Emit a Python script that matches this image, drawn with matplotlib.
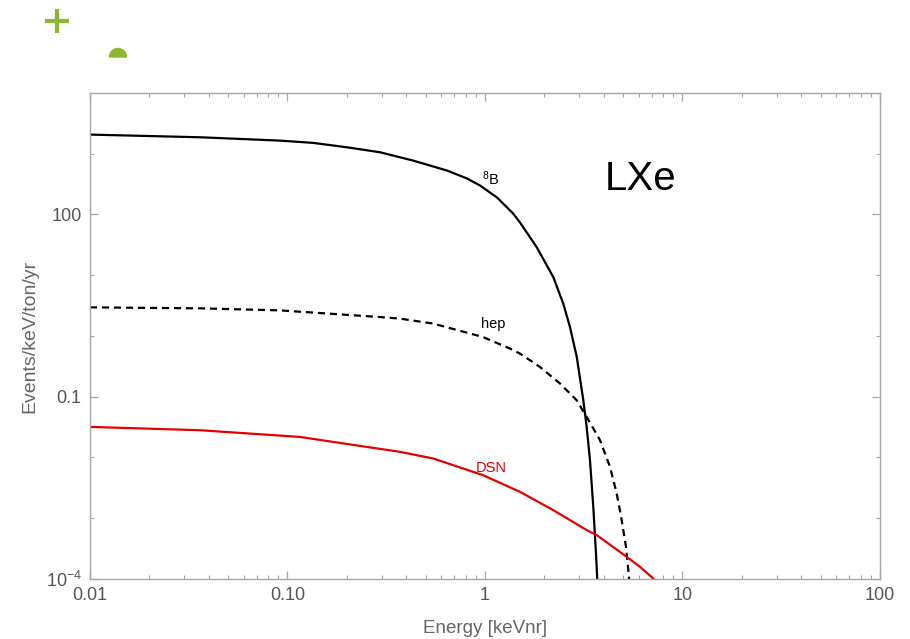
import matplotlib
matplotlib.use("Agg")
import matplotlib.pyplot as plt
from matplotlib.lines import Line2D
from matplotlib.patches import Wedge
from matplotlib.transforms import IdentityTransform
from matplotlib.ticker import FixedLocator, NullFormatter, FixedFormatter

plt.rcParams['font.family'] = ['Liberation Sans', 'DejaVu Sans']
plt.rcParams['mathtext.default'] = 'regular'

# 8B neutrinos
b8_energy = [0.01, 0.0361, 0.0916, 0.1346, 0.200, 0.294, 0.432, 0.642, 0.811,
             0.944, 1.151, 1.387, 1.504, 1.827, 2.218, 2.492, 2.694, 2.913,
             3.147, 3.273, 3.401, 3.535, 3.648, 3.704]
b8_rate = [2065, 1866, 1644, 1509, 1277, 1057, 772, 529, 391,
           300, 190, 104, 73.8, 29.0, 9.31, 3.40, 1.40, 0.46,
           0.0875, 0.0318, 0.00903, 0.00154, 2.64e-4, 9.6e-5]

# hep neutrinos
hep_energy = [0.01, 0.0361, 0.0916, 0.294, 0.372, 0.546, 0.977, 1.34, 1.504,
              1.898, 2.398, 2.913, 3.273, 3.822, 4.296, 4.644, 4.922, 5.176,
              5.378]
hep_rate = [2.96, 2.85, 2.64, 2.05, 1.93, 1.60, 0.962, 0.619, 0.513,
            0.309, 0.165, 0.0875, 0.0465, 0.0193, 0.00702, 0.00256, 9.33e-4,
            3.40e-4, 9.6e-5]

# diffuse supernova neutrinos
dsn_energy = [0.01, 0.0361, 0.1155, 0.372, 0.546, 0.977, 1.504, 2.218,
              3.273, 3.679, 5.216, 6.09, 7.26]
dsn_rate = [0.0319, 0.0281, 0.0218, 0.01237, 0.00964, 0.00512, 0.00272,
            0.00136, 6.38e-4, 5.28e-4, 2.32e-4, 1.59e-4, 9.6e-5]

xtick_vals = [0.01, 0.1, 1, 10, 100]
xtick_labels = ["0.01", "0.10", "1", "10", "100"]
ytick_vals = [1e-4, 0.1, 100]
ytick_labels = ["$10^{-4}$", "0.1", "100"]

frame_col = '#a6a6a6'
text_col = '#555555'

fig = plt.figure(figsize=(9.1, 6.39), dpi=100)
ax = fig.add_axes([0.0989, 0.0939, 0.8681, 0.7606])

ax.plot(b8_energy, b8_rate, color='black', lw=1.6)
ax.plot(hep_energy, hep_rate, color='black', lw=1.6, ls=(0, (3.2, 2.2)))
ax.plot(dsn_energy, dsn_rate, color='#e50000', lw=1.6)

ax.set_xscale('log')
ax.set_yscale('log')
ax.set_xlim(0.01, 100)
ax.set_ylim(1e-4, 1e4)

ax.xaxis.set_major_locator(FixedLocator(xtick_vals))
ax.xaxis.set_major_formatter(FixedFormatter(xtick_labels))
xminor = [m * 10.0 ** e for e in range(-2, 2) for m in range(2, 10)]
ax.xaxis.set_minor_locator(FixedLocator(xminor))
ax.xaxis.set_minor_formatter(NullFormatter())

ax.yaxis.set_major_locator(FixedLocator(ytick_vals))
ax.yaxis.set_major_formatter(FixedFormatter(ytick_labels))
ax.yaxis.set_minor_locator(FixedLocator([1e-3, 1e-2, 1, 10, 1e3]))
ax.yaxis.set_minor_formatter(NullFormatter())

for s in ax.spines.values():
    s.set_color(frame_col)
    s.set_linewidth(1.0)
ax.tick_params(which='both', direction='in', top=True, right=True,
               color=frame_col, labelcolor=text_col, labelsize=13)
ax.tick_params(which='major', length=6, width=0.9, pad=6)
ax.tick_params(which='minor', length=3, width=0.8)

ax.set_xlabel("Energy [keVnr]", color='#666666', fontsize=13.5, labelpad=11)
ax.set_ylabel("Events/keV/ton/yr", color='#666666', fontsize=14, labelpad=5)

ax.text(1.07, 390, "$^{8}$B", fontsize=10.5, ha='center', va='center')
ax.text(1.1, 1.6, "hep", fontsize=10.5, ha='center', va='center')
ax.text(1.08, 0.0066, "DSN", fontsize=10.5, ha='center', va='center',
        color='#e50000')
ax.text(6.1, 390, "LXe", fontsize=29, ha='center', va='center')

# green marks in the top-left corner of the original picture
green = '#8ab82e'
fig.add_artist(Line2D([0.0626], [0.967], marker='+', markersize=17, mew=3,
                      color=green, transform=fig.transFigure))
fig.add_artist(Wedge((118, 639 - 57), 8.5, 0, 180, color=green,
                     transform=IdentityTransform()))

fig.savefig("out.png", dpi=100)
